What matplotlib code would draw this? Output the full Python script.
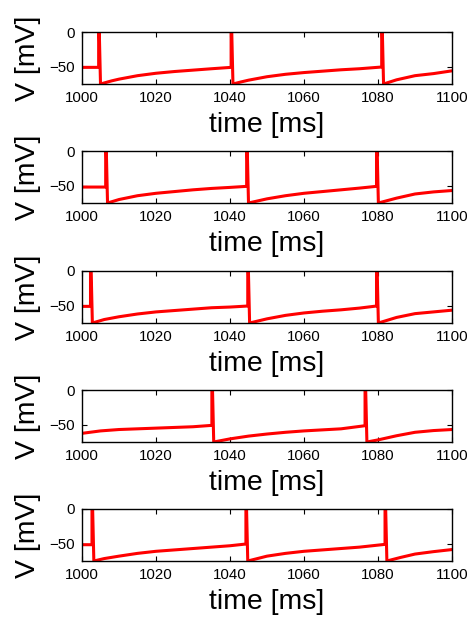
import matplotlib
matplotlib.use("Agg")
import matplotlib.pyplot as plt

plt.rcParams["font.family"] = ["Liberation Sans", "DejaVu Sans"]

# membrane voltage traces (time in ms, V in mV)
t1 = [1000, 1004.5, 1004.5, 1005.0, 1008, 1010, 1015, 1020, 1025, 1030, 1035,
      1040.3, 1040.3, 1040.8, 1043, 1045, 1050, 1055, 1060, 1065, 1070, 1075,
      1081.0, 1081.0, 1081.5, 1085, 1090, 1095, 1100]
v1 = [-51, -51, 40, -75, -70.5, -68, -63, -59.5, -57, -55, -53,
      -51, 40, -75, -72, -69.5, -64.5, -61, -58.5, -56.5, -54.5, -53,
      -50.5, 40, -75, -69, -63, -60, -56]

t2 = [1000, 1006.4, 1006.4, 1006.9, 1010, 1015, 1020, 1025, 1030, 1035, 1040,
      1044.5, 1044.5, 1045.0, 1050, 1055, 1060, 1065, 1070, 1075,
      1079.6, 1079.6, 1080.1, 1085, 1090, 1095, 1100]
v2 = [-52, -52, 40, -75, -70, -64.5, -61, -58.5, -56, -54, -52.5,
      -51, 40, -75, -69, -64.5, -61, -58.5, -56, -53.5,
      -51, 40, -75, -68, -62, -59, -57]

t3 = [1000, 1002.3, 1002.3, 1002.8, 1006, 1010, 1015, 1020, 1025, 1030, 1035, 1040,
      1044.8, 1044.8, 1045.3, 1050, 1055, 1060, 1065, 1070, 1075,
      1079.6, 1079.6, 1080.1, 1085, 1090, 1095, 1100]
v3 = [-51, -51, 40, -75, -70, -66, -62, -59, -57, -55, -53, -52,
      -50.5, 40, -75, -69, -64, -60.5, -58, -56, -53.5,
      -50.5, 40, -75, -67, -61.5, -59, -56.5]

t4 = [1000, 1005, 1010, 1015, 1020, 1025, 1030, 1035.1, 1035.1, 1035.6, 1040,
      1045, 1050, 1055, 1060, 1065, 1070, 1076.5, 1076.5, 1077.0, 1080,
      1085, 1090, 1095, 1100]
v4 = [-62.5, -59, -57, -56, -55, -54, -53, -51, 40, -75, -70.5,
      -66.5, -63.5, -61, -59, -57.5, -56, -51.5, 40, -75, -72,
      -66, -61, -58.5, -57]

t5 = [1000, 1002.7, 1002.7, 1003.2, 1006, 1010, 1015, 1020, 1025, 1030, 1035, 1040,
      1044.3, 1044.3, 1044.8, 1050, 1055, 1060, 1065, 1070, 1075,
      1081.9, 1081.9, 1082.4, 1086, 1090, 1095, 1100]
v5 = [-51.5, -51.5, 40, -75, -71.5, -68, -64, -61, -59, -57, -55, -53,
      -50.5, 40, -75, -68, -64, -61, -59, -57, -55,
      -51, 40, -75, -70, -65, -61.5, -58.5]

traces = [(t1, v1), (t2, v2), (t3, v3), (t4, v4), (t5, v5)]
x_ticks = [1000, 1020, 1040, 1060, 1080, 1100]
y_ticks = [-50, 0]

fig = plt.figure(figsize=(4.71, 6.19), dpi=100)
W, H = 471.0, 619.0
tops = [32, 151, 271, 390, 509]

for top, (t, v) in zip(tops, traces):
    ax = fig.add_axes([82 / W, 1 - (top + 52) / H, 370 / W, 52 / H])
    ax.plot(t, v, color="#ff0000", linewidth=2.2)
    ax.set_xlim(1000, 1100)
    ax.set_ylim(-75, 0)
    ax.set_xticks(x_ticks)
    ax.set_yticks(y_ticks)
    ax.tick_params(direction="in", top=True, right=True, length=3.5,
                   width=0.8, labelsize=10.8, pad=5)
    for spine in ax.spines.values():
        spine.set_linewidth(1.0)
    ax.set_xlabel("time [ms]", fontsize=20.5, labelpad=5)
    ax.set_ylabel("V [mV]", fontsize=20.5, labelpad=6)

fig.savefig("out.png", dpi=100, facecolor="white")
